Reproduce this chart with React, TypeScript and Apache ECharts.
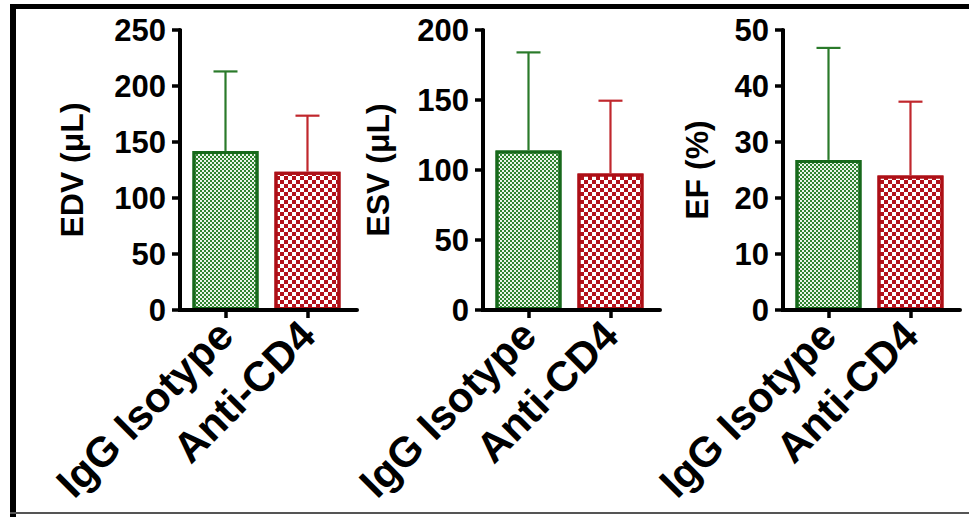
import React, { useEffect, useRef } from "react";
import * as echarts from "echarts";

const categories = ["IgG Isotype", "Anti-CD4"];
const catPos = [1, 2];
const panelTitles = ["EDV (\u03bcL)", "ESV (\u03bcL)", "EF (%)"];
const yMax = [250, 200, 50];
const yInterval = [50, 50, 10];
const isoMean = [142, 114, 26.8];
const isoUpper = [213, 184, 46.8];
const cd4Mean = [123.5, 97.5, 24.0];
const cd4Upper = [173.5, 149.5, 37.2];

const xMin = 0.445;
const xMax = 2.604;
const gridLefts = [180, 483, 783];
const nameGaps = [92, 89, 70];

const FONT = "'Liberation Sans', Arial, sans-serif";
const GREEN_BORDER = "#17691b";
const GREEN_BASE = "#eaf4ea";
const GREEN_FILL = "#2f832f";
const GREEN_ERR = "#2a7a2a";
const RED_BORDER = "#ad0f16";
const RED_FILL = "#b3121b";
const RED_ERR = "#c0272d";

function errRender(color: string) {
  return (params: any, api: any) => {
    const x = api.value(0);
    const m = api.value(1);
    const u = api.value(2);
    const p0 = api.coord([x, m]);
    const p1 = api.coord([x, u]);
    return {
      type: "group",
      children: [
        {
          type: "line",
          shape: { x1: p0[0], y1: p0[1], x2: p1[0], y2: p1[1] },
          style: { stroke: color, lineWidth: 2.2 },
        },
        {
          type: "line",
          shape: { x1: p1[0] - 12, y1: p1[1], x2: p1[0] + 12, y2: p1[1] },
          style: { stroke: color, lineWidth: 2.2 },
        },
      ],
    };
  };
}

export default function App() {
  const ref = useRef<HTMLDivElement>(null);
  useEffect(() => {
    if (!ref.current) return;
    const chart = echarts.init(ref.current, undefined, { renderer: "svg" });
    const grids: any[] = [];
    const xAxes: any[] = [];
    const yAxes: any[] = [];
    const series: any[] = [];
    for (let i = 0; i < 3; i++) {
      grids.push({ left: gridLefts[i], top: 30, width: 177, height: 280 });
      xAxes.push({
        type: "value",
        gridIndex: i,
        min: xMin,
        max: xMax,
        splitLine: { show: false },
        axisLine: { show: true, onZero: false, lineStyle: { color: "#000000", width: 4 } },
        axisTick: {
          show: true,
          customValues: catPos,
          length: 8,
          lineStyle: { color: "#000000", width: 3.5 },
        },
        axisLabel: {
          show: true,
          customValues: catPos,
          rotate: 45,
          margin: 18,
          fontSize: 42,
          fontWeight: "bold",
          fontFamily: FONT,
          color: "#000",
          formatter: (v: number) => categories[Math.round(v) - 1],
        },
      });
      yAxes.push({
        type: "value",
        gridIndex: i,
        min: 0,
        max: yMax[i],
        interval: yInterval[i],
        name: panelTitles[i],
        nameLocation: "middle",
        nameGap: nameGaps[i],
        nameTextStyle: {
          fontSize: 32,
          fontWeight: "bold",
          fontFamily: FONT,
          color: "#000",
        },
        splitLine: { show: false },
        axisLine: { show: true, onZero: false, lineStyle: { color: "#000000", width: 4 } },
        axisTick: { show: true, length: 8, lineStyle: { color: "#000000", width: 3.5 } },
        axisLabel: {
          margin: 14,
          fontSize: 31,
          fontWeight: "bold",
          fontFamily: FONT,
          color: "#000",
        },
      });
      series.push({
        type: "bar",
        xAxisIndex: i,
        yAxisIndex: i,
        barWidth: 66,
        barGap: "-100%",
        data: [[catPos[0], isoMean[i]]],
        itemStyle: {
          color: GREEN_BASE,
          borderColor: GREEN_BORDER,
          borderWidth: 3,
          decal: {
            symbol: "rect",
            symbolSize: 1,
            dashArrayX: [[2, 2], [0, 2, 2, 0]],
            dashArrayY: [2, 0],
            color: GREEN_FILL,
          },
        },
      });
      series.push({
        type: "bar",
        xAxisIndex: i,
        yAxisIndex: i,
        barWidth: 66,
        barGap: "-100%",
        data: [[catPos[1], cd4Mean[i]]],
        itemStyle: {
          color: "#ffffff",
          borderColor: RED_BORDER,
          borderWidth: 3,
          decal: {
            symbol: "rect",
            symbolSize: 1,
            dashArrayX: [[4, 4], [0, 4, 4, 0]],
            dashArrayY: [4, 0],
            color: RED_FILL,
          },
        },
      });
      series.push({
        type: "custom",
        xAxisIndex: i,
        yAxisIndex: i,
        clip: false,
        encode: { x: 0, y: [1, 2] },
        data: [[catPos[0], isoMean[i], isoUpper[i]]],
        renderItem: errRender(GREEN_ERR),
        z: 3,
      });
      series.push({
        type: "custom",
        xAxisIndex: i,
        yAxisIndex: i,
        clip: false,
        encode: { x: 0, y: [1, 2] },
        data: [[catPos[1], cd4Mean[i], cd4Upper[i]]],
        renderItem: errRender(RED_ERR),
        z: 3,
      });
    }
    const frame: any[] = [
      { type: "rect", shape: { x: 10, y: 4, width: 959, height: 5 }, style: { fill: "#000" } },
      { type: "rect", shape: { x: 10, y: 4, width: 6, height: 513 }, style: { fill: "#000" } },
      { type: "rect", shape: { x: 10, y: 512, width: 959, height: 2 }, style: { fill: "#555" } },
    ];
    chart.setOption({
      animation: false,
      backgroundColor: "#ffffff",
      grid: grids,
      xAxis: xAxes,
      yAxis: yAxes,
      series,
      graphic: frame,
    });
    // Solid axis lines, positioned through the chart's own scales.
    const axisRects: any[] = [];
    for (let i = 0; i < 3; i++) {
      const o = chart.convertToPixel({ gridIndex: i }, [xMin, 0]) as number[];
      const t = chart.convertToPixel({ gridIndex: i }, [xMax, yMax[i]]) as number[];
      axisRects.push({
        type: "rect",
        z: 50,
        shape: { x: o[0] - 2, y: t[1] - 1, width: 4, height: o[1] - t[1] + 3 },
        style: { fill: "#000" },
      });
      axisRects.push({
        type: "rect",
        z: 50,
        shape: { x: o[0] - 2, y: o[1] - 2, width: t[0] - o[0] + 2, height: 4 },
        style: { fill: "#000" },
      });
    }
    chart.setOption({ graphic: frame.concat(axisRects) });
    return () => chart.dispose();
  }, []);
  return (
    <div
      ref={ref}
      style={{ position: "fixed", left: 0, top: 0, width: 969, height: 517, background: "#fff" }}
    />
  );
}
